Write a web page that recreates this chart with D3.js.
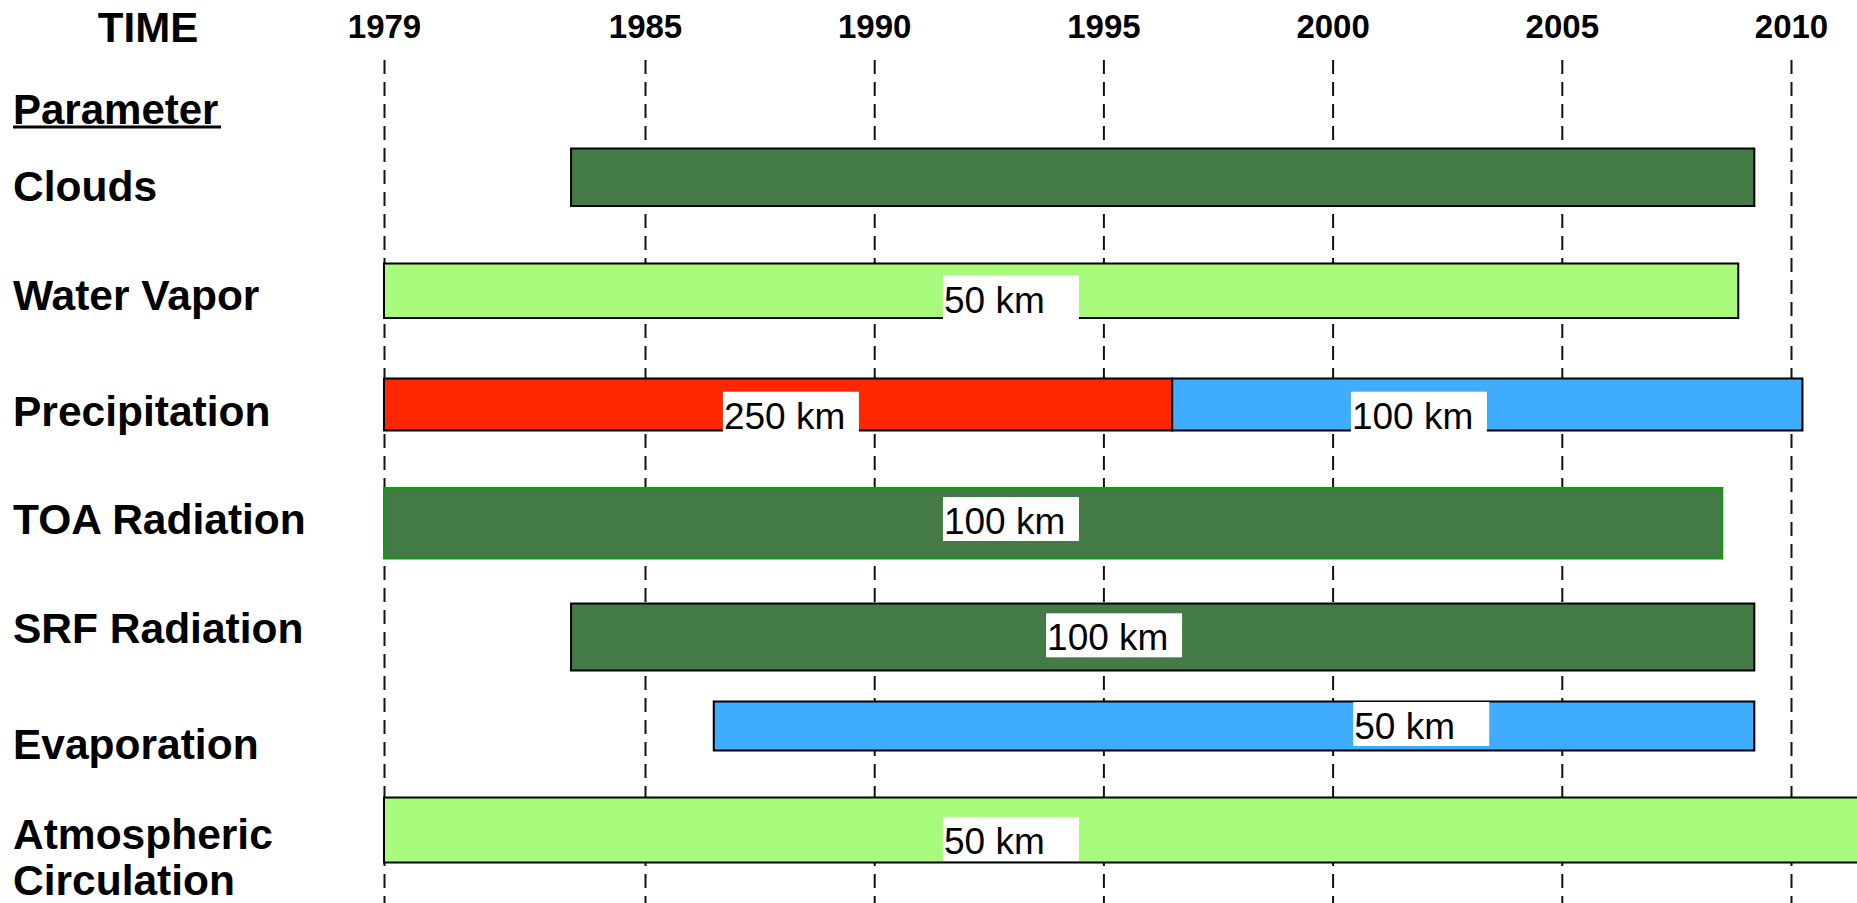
<!DOCTYPE html>
<html>
<head>
<meta charset="utf-8">
<script src="https://cdn.jsdelivr.net/npm/d3@7/dist/d3.min.js"></script>
<style>
  html, body { margin: 0; padding: 0; background: #fff; overflow: hidden; }
  svg { display: block; font-family: "Liberation Sans", Arial, Helvetica, sans-serif; }
</style>
</head>
<body>
<svg id="chart" width="1857" height="903"></svg>
<script>
// ---------------- data ----------------
const parameters = ["Clouds", "Water Vapor", "Precipitation", "TOA Radiation",
                    "SRF Radiation", "Evaporation", "Atmospheric Circulation"];
const tickYears = [1979, 1985, 1990, 1995, 2000, 2005, 2010];

// one entry per bar segment
const segParameter  = ["Clouds", "Water Vapor", "Precipitation", "Precipitation",
                       "TOA Radiation", "SRF Radiation", "Evaporation", "Atmospheric Circulation"];
const segProduct    = ["cloud", "vapor", "precipOld", "precipNew", "toa", "srf", "evap", "circ"];
const segStart      = [1983.3, 1979, 1979, 1996.5, 1979, 1983.3, 1986.5, 1979];
const segEnd        = [2009.2, 2008.85, 1996.5, 2010.25, 2008.5, 2009.2, 2009.2, 2013];
const segResolution = ["", "50 km", "250 km", "100 km", "100 km", "100 km", "50 km", "50 km"];
const segLabelYear  = [null, 1991.5, 1986.7, 2000.4, 1991.5, 1993.75, 2000.45, 1991.5];

// ---------------- layout / style ----------------
const W = 1857, H = 903;
const svg = d3.select("#chart");

// time axis (slide layout: 1979 start, then 5-year steps)
const x = d3.scaleLinear().domain([1979, 1985, 2010]).range([384, 645, 1791]);

// row geometry (slide layout)
const barTop    = d3.scaleOrdinal().domain(parameters).range([148.5, 263.5, 378.5, 488, 603.5, 701.5, 797.5]);
const barHeight = d3.scaleOrdinal().domain(parameters).range([57.5, 54.5, 52, 70.5, 67, 49, 65]);
const labelBase = d3.scaleOrdinal().domain(parameters).range([201, 310, 426, 534, 643, 759, 849]);
const boxTop    = d3.scaleOrdinal().domain(parameters).range([0, 275.7, 391.7, 497, 613.3, 702, 817]);

const fill = d3.scaleOrdinal()
  .domain(["cloud", "vapor", "precipOld", "precipNew", "toa", "srf", "evap", "circ"])
  .range(["#437a45", "#a9fb7b", "#ff2600", "#3facfd", "#437a45", "#437a45", "#3facfd", "#a9fb7b"]);
const stroke = d3.scaleOrdinal()
  .domain(["cloud", "vapor", "precipOld", "precipNew", "toa", "srf", "evap", "circ"])
  .range(["#000", "#000", "#000", "#000", "#0a9e0a", "#000", "#000", "#000"]);

const segs = segParameter.map((p, i) => ({
  param: p, product: segProduct[i], start: segStart[i], end: segEnd[i],
  res: segResolution[i], labelYear: segLabelYear[i]
}));

// ---------------- grid (dashed year lines) ----------------
const axis = d3.axisTop(x)
  .tickValues(tickYears)
  .tickFormat(d3.format("d"))
  .tickSize(-(H - 60))
  .tickPadding(22);

const gAxis = svg.append("g").attr("transform", "translate(0,60)").call(axis);
gAxis.select(".domain").remove();
gAxis.selectAll(".tick line")
  .attr("stroke", "#111")
  .attr("stroke-width", 2)
  .attr("stroke-dasharray", "14,8");
gAxis.selectAll(".tick text")
  .attr("y", -22)
  .attr("dy", 0)
  .attr("font-size", 33)
  .attr("font-weight", "bold")
  .attr("fill", "#000");

// ---------------- bars ----------------
svg.append("g").selectAll("rect")
  .data(segs)
  .join("rect")
  .attr("x", d => x(d.start))
  .attr("y", d => barTop(d.param))
  .attr("width", d => x(d.end) - x(d.start))
  .attr("height", d => barHeight(d.param))
  .attr("fill", d => fill(d.product))
  .attr("stroke", d => stroke(d.product))
  .attr("stroke-width", 2);

// ---------------- resolution labels ----------------
const labeled = segs.filter(d => d.res);
const gLab = svg.append("g").selectAll("g")
  .data(labeled)
  .join("g")
  .attr("transform", d => `translate(${x(d.labelYear)},${boxTop(d.param)})`);
gLab.append("rect")
  .attr("width", 136).attr("height", 44)
  .attr("fill", "#fff");
gLab.append("text")
  .attr("x", 1).attr("y", 37)
  .attr("font-size", 37)
  .attr("fill", "#000")
  .text(d => d.res);

// ---------------- header & parameter names ----------------
svg.append("text")
  .attr("x", 148).attr("y", 42)
  .attr("text-anchor", "middle")
  .attr("font-size", 42).attr("font-weight", "bold")
  .text("TIME");

svg.append("text")
  .attr("x", 13).attr("y", 124)
  .attr("font-size", 42).attr("font-weight", "bold")
  .text("Parameter");
svg.append("line")
  .attr("x1", 13).attr("x2", 221)
  .attr("y1", 127).attr("y2", 127)
  .attr("stroke", "#000").attr("stroke-width", 3);

const gNames = svg.append("g").selectAll("text")
  .data(parameters)
  .join("text")
  .attr("x", 13)
  .attr("y", d => labelBase(d))
  .attr("font-size", 42.5)
  .attr("font-weight", "bold")
  .attr("fill", "#000");
gNames.each(function(d) {
  const words = d === "Atmospheric Circulation" ? ["Atmospheric", "Circulation"] : [d];
  d3.select(this).selectAll("tspan")
    .data(words)
    .join("tspan")
    .attr("x", 13)
    .attr("dy", (w, i) => i === 0 ? 0 : 46)
    .text(w => w);
});
</script>
</body>
</html>
